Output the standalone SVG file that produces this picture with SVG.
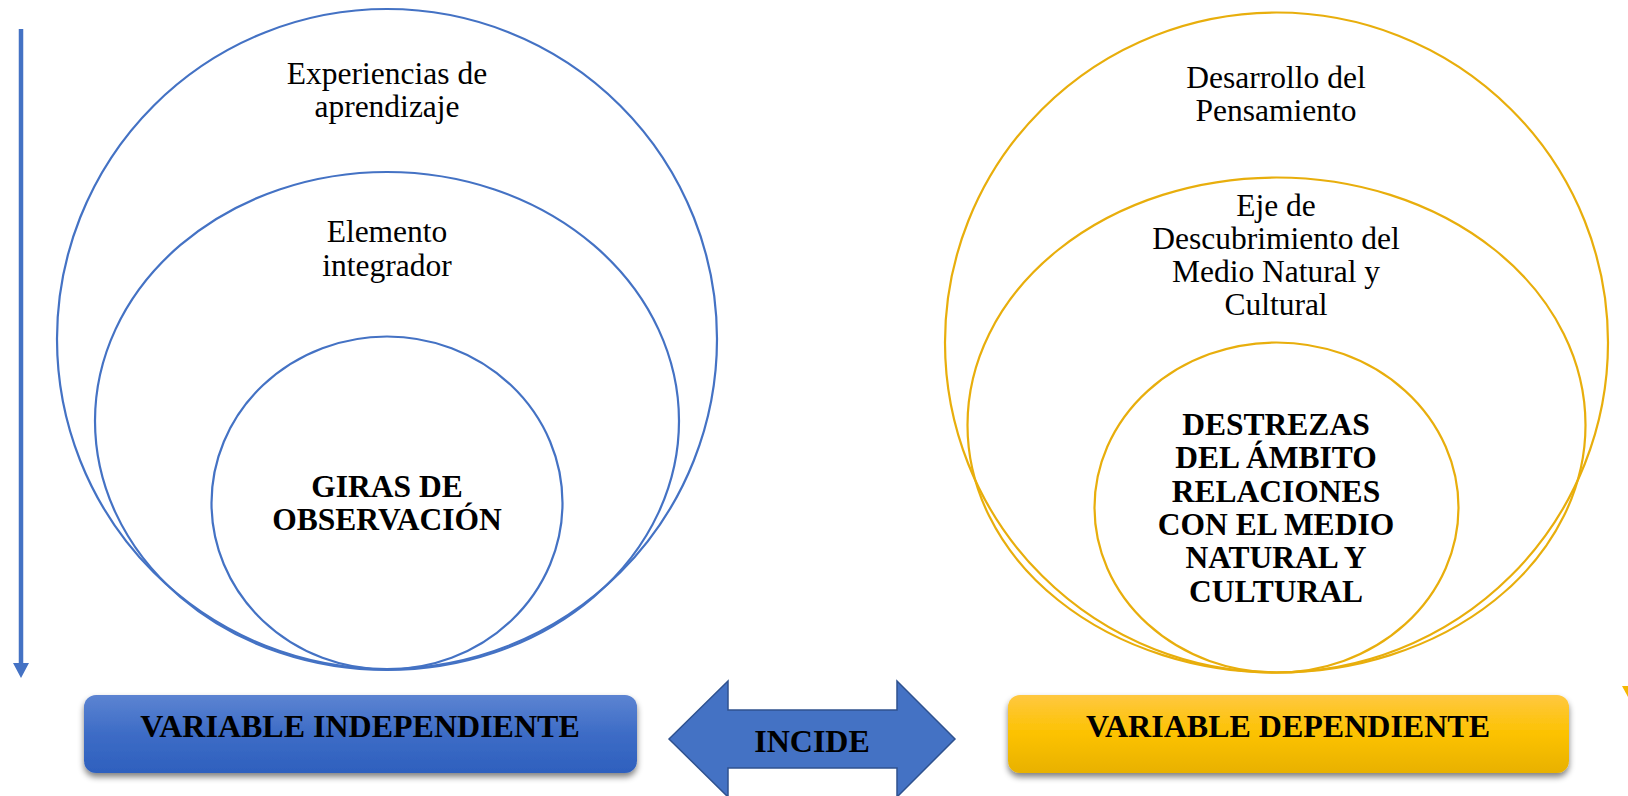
<svg xmlns="http://www.w3.org/2000/svg" width="1628" height="796" viewBox="0 0 1628 796">
<style>
.reg{font-family:"Liberation Serif","Times New Roman",serif;font-size:31.5px;fill:#000;text-anchor:middle}
.bold{font-family:"Liberation Serif","Times New Roman",serif;font-size:31.5px;font-weight:bold;fill:#000;text-anchor:middle}
.lbl{font-family:"Liberation Serif","Times New Roman",serif;font-size:32px;font-weight:bold;fill:#000;text-anchor:middle}
.bc{fill:none;stroke:#4472c4;stroke-width:2.2}
.yc{fill:none;stroke:#e8ae0c;stroke-width:2.2}
</style>
<defs>
<linearGradient id="gb" x1="0" y1="0" x2="0" y2="1">
<stop offset="0" stop-color="#5c84d2"/><stop offset="0.5" stop-color="#3d6cc6"/><stop offset="1" stop-color="#2e60be"/>
</linearGradient>
<linearGradient id="gy" x1="0" y1="0" x2="0" y2="1">
<stop offset="0" stop-color="#ffc840"/><stop offset="0.5" stop-color="#fcc200"/><stop offset="1" stop-color="#e8b100"/>
</linearGradient>
<filter id="sh" x="-10%" y="-20%" width="120%" height="160%">
<feGaussianBlur in="SourceAlpha" stdDeviation="3"/>
<feOffset dx="0" dy="4" result="b"/>
<feComponentTransfer><feFuncA type="linear" slope="0.5"/></feComponentTransfer>
<feMerge><feMergeNode/><feMergeNode in="SourceGraphic"/></feMerge>
</filter>
</defs>
<g id="connectors">
<line x1="21" y1="29" x2="21" y2="665" stroke="#4472c4" stroke-width="4.5"/>
<polygon points="13,663 29,663 21,678" fill="#4472c4"/>
<polygon points="1622,686 1628,686 1628,697" fill="#f5b800"/>
</g>
<g id="left-outer">
<circle class="bc" cx="387" cy="339" r="330"/>
<text class="reg" x="387" y="84">Experiencias de</text>
<text class="reg" x="387" y="117">aprendizaje</text>
</g>
<g id="left-middle">
<ellipse class="bc" cx="387" cy="421" rx="292" ry="249"/>
<text class="reg" x="387" y="242">Elemento</text>
<text class="reg" x="387" y="276">integrador</text>
</g>
<g id="left-inner">
<ellipse class="bc" cx="387" cy="503" rx="175.5" ry="166.5"/>
<text class="bold" x="387" y="497">GIRAS DE</text>
<text class="bold" x="387" y="530">OBSERVACIÓN</text>
</g>
<g id="right-outer">
<ellipse class="yc" cx="1276.5" cy="342.5" rx="331.5" ry="330"/>
<text class="reg" x="1276" y="88">Desarrollo del</text>
<text class="reg" x="1276" y="121">Pensamiento</text>
</g>
<g id="right-middle">
<ellipse class="yc" cx="1276.5" cy="425" rx="309" ry="247.5"/>
<text class="reg" x="1276" y="216">Eje de</text>
<text class="reg" x="1276" y="249">Descubrimiento del</text>
<text class="reg" x="1276" y="282">Medio Natural y</text>
<text class="reg" x="1276" y="315">Cultural</text>
</g>
<g id="right-inner">
<ellipse class="yc" cx="1276.5" cy="507.5" rx="182" ry="165"/>
<text class="bold" x="1276" y="435">DESTREZAS</text>
<text class="bold" x="1276" y="468">DEL ÁMBITO</text>
<text class="bold" x="1276" y="502">RELACIONES</text>
<text class="bold" x="1276" y="535">CON EL MEDIO</text>
<text class="bold" x="1276" y="568">NATURAL Y</text>
<text class="bold" x="1276" y="602">CULTURAL</text>
</g>
<g id="var-independiente">
<rect x="84" y="695" width="553" height="78" rx="12" fill="url(#gb)" filter="url(#sh)"/>
<text class="lbl" x="360" y="737">VARIABLE INDEPENDIENTE</text>
</g>
<g id="incide">
<polygon points="669,739 728,681 728,710 897,710 897,681 955,739 897,797 897,768 728,768 728,797" fill="#4472c4" stroke="#2f528f" stroke-width="1.5"/>
<text class="lbl" x="812" y="752">INCIDE</text>
</g>
<g id="var-dependiente">
<rect x="1008" y="695" width="561" height="78" rx="12" fill="url(#gy)" filter="url(#sh)"/>
<text class="lbl" x="1288" y="737">VARIABLE DEPENDIENTE</text>
</g>
</svg>
